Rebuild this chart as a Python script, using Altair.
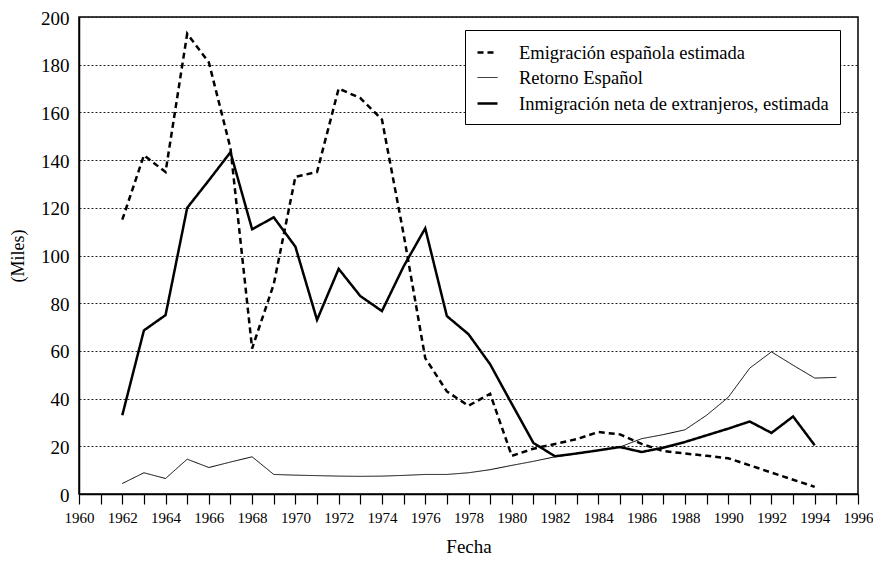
import altair as alt
import pandas as pd

years = list(range(1962, 1996))
emigracion = [115, 142, 135, 193, 181, 145, 61, 88, 133, 135, 170, 166, 157, 109, 57, 43,
              37, 42, 16, 19, 21, 23, 26, 25, 21, 18, 17, 16, 15, 12, 9, 6, 3, None]
retorno = [4.4, 8.9, 6.5, 14.6, 11.1, 13.4, 15.6, 8.2, 7.9, 7.7, 7.5, 7.4, 7.5, 7.8, 8.2, 8.2,
           8.9, 10.2, 12, 13.7, 15.6, 16.9, 18.3, 19.7, 23.2, 24.9, 26.9, 33, 40.5, 52.8, 59.6,
           54, 48.6, 48.9]
inmigracion = [33, 68.6, 75, 120, 131.5, 143.3, 111, 116, 103.7, 73, 94.4, 83, 76.7, 95.4, 111.4,
               74.6, 67, 54.4, 37.8, 21.4, 15.8, 17, 18.3, 19.7, 17.6, 19.4, 21.8, 24.6, 27.4,
               30.4, 25.6, 32.5, 20.4, None]

series_names = ["Emigración española estimada", "Retorno Español",
                "Inmigración neta de extranjeros, estimada"]
x_ticks = list(range(1960, 1997))
y_ticks = list(range(0, 201, 20))

rows = []
for name, vals in zip(series_names, [emigracion, retorno, inmigracion]):
    for yr, v in zip(years, vals):
        if v is not None:
            rows.append({"Fecha": yr, "Valor": v, "Serie": name})
df = pd.DataFrame(rows)

FONT = "Liberation Serif"

legend_kw = dict(title=None, orient="none", legendX=386, legendY=13,
                 labelFont=FONT, labelFontSize=18.5, labelColor="black",
                 symbolType="stroke", symbolSize=400, symbolStrokeColor="black",
                 strokeColor="black", fillColor="white",
                 padding=11, rowPadding=5, labelOffset=20, labelLimit=500)

chart = alt.Chart(df).mark_line(color="black", strokeJoin="miter").encode(
    x=alt.X("Fecha:Q",
            scale=alt.Scale(domain=[1960, 1996], nice=False, zero=False),
            axis=alt.Axis(values=x_ticks, grid=False, tickSize=10, tickColor="black",
                          tickWidth=1.2, domainColor="black", domainWidth=1.5,
                          labelExpr="datum.value % 2 == 0 ? datum.value : ''",
                          labelFontSize=15, labelColor="black",
                          labelPadding=6, labelFlush=False,
                          title="Fecha", titleFontSize=19,
                          titleFontWeight="normal", titleColor="black", titlePadding=12)),
    y=alt.Y("Valor:Q",
            scale=alt.Scale(domain=[0, 200], nice=False),
            axis=alt.Axis(values=y_ticks, grid=True, gridColor="#222222", gridDash=[2, 2],
                          gridWidth=1, ticks=False, domainColor="black", domainWidth=1.5,
                          labelFontSize=19, labelColor="black", labelOffset=1,
                          labelPadding=10, labelFlush=False,
                          title="(Miles)", titleFontSize=18,
                          titleFontWeight="normal", titleColor="black", titlePadding=13)),
    strokeDash=alt.StrokeDash("Serie:N",
                              scale=alt.Scale(type="ordinal", domain=series_names,
                                              range=[[6, 4], [1, 0], [1, 0]]),
                              legend=alt.Legend(**legend_kw)),
    strokeWidth=alt.StrokeWidth("Serie:N",
                                scale=alt.Scale(type="ordinal", domain=series_names,
                                                range=[2.5, 1, 2.5]),
                                legend=alt.Legend(**legend_kw)),
    detail="Serie:N",
).properties(
    width=779, height=477,
    autosize=alt.AutoSizeParams(type="none"),
    padding={"left": 71, "top": 9, "right": 15, "bottom": 70},
).configure(
    font=FONT
).configure_axis(
    labelFont=FONT, titleFont=FONT
).configure_legend(
    labelFont=FONT, titleFont=FONT
).configure_view(
    stroke="black", strokeWidth=1.5
)

chart.save("out.html", embed_options={"renderer": "svg", "actions": False})
